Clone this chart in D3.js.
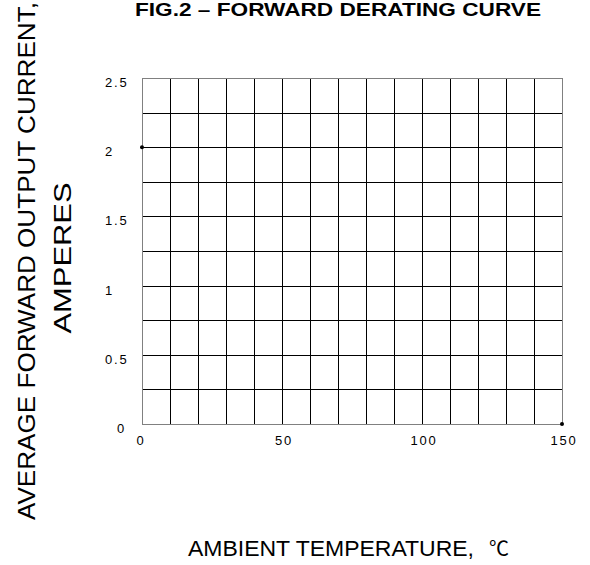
<!DOCTYPE html>
<html lang="en">
<head>
    <meta charset="UTF-8"/>
    <title>Forward Derating Curve</title>
    <script src="https://d3js.org/d3.v7.min.js" charset="utf-8"></script>
    <style type="text/css">
        body { margin: 0; background: #fff; }
        text { font-family: "Liberation Sans", Arial, sans-serif; fill: #000; }
        .grid line { stroke: #000; stroke-width: 1px; shape-rendering: crispEdges; }
        .frame { fill: none; stroke: #808080; stroke-width: 1.2px; shape-rendering: crispEdges; }
        .tick-label { font-size: 13px; letter-spacing: 1.8px; }
    </style>
</head>
<body>
<div id="main"></div>
<script type="text/javascript">
    // chart data
    var temps = [0, 150];          // ambient temperature, C
    var currents = [2, 0];         // average forward output current, A
    var xTicks = [0, 50, 100, 150];
    var yTicks = [0, 0.5, 1, 1.5, 2, 2.5];
    var xGrid = d3.range(0, 151, 10);
    var yGrid = d3.range(0, 2.51, 0.25);

    var width = 590, height = 565;
    var svg = d3.select("#main").append("svg")
        .attr("width", width)
        .attr("height", height);

    // plot box
    var x = d3.scaleLinear().domain([0, 150]).range([142, 562]);
    var y = d3.scaleLinear().domain([0, 2.5]).range([424, 78]);

    var grid = svg.append("g").attr("class", "grid");
    grid.selectAll("line.v")
        .data(xGrid)
        .enter().append("line")
        .attr("class", "v")
        .attr("x1", function (d) { return Math.round(x(d)) + 0.5; })
        .attr("x2", function (d) { return Math.round(x(d)) + 0.5; })
        .attr("y1", y(0))
        .attr("y2", y(2.5));
    grid.selectAll("line.h")
        .data(yGrid)
        .enter().append("line")
        .attr("class", "h")
        .attr("x1", x(0))
        .attr("x2", x(150))
        .attr("y1", function (d) { return Math.round(y(d)) + 0.5; })
        .attr("y2", function (d) { return Math.round(y(d)) + 0.5; });

    svg.append("rect")
        .attr("class", "frame")
        .attr("x", x(0) + 0.5)
        .attr("y", y(2.5) + 0.5)
        .attr("width", x(150) - x(0))
        .attr("height", y(0) - y(2.5));

    // y tick labels (left aligned like the original)
    svg.append("g").selectAll("text")
        .data(yTicks)
        .enter().append("text")
        .attr("class", "tick-label")
        .attr("x", function (d) { return d === 0 ? 117 : 105; })
        .attr("y", function (d) { return y(d) + 9; })
        .text(function (d) { return d; });

    // x tick labels
    svg.append("g").selectAll("text")
        .data(xTicks)
        .enter().append("text")
        .attr("class", "tick-label")
        .attr("text-anchor", "middle")
        .attr("x", function (d) { return x(d) + (d === 0 ? -1 : 2); })
        .attr("y", 445)
        .text(function (d) { return d; });

    // data points
    svg.append("g").selectAll("circle")
        .data(temps)
        .enter().append("circle")
        .attr("cx", function (d) { return x(d); })
        .attr("cy", function (d, i) { return y(currents[i]); })
        .attr("r", 2)
        .style("fill", "#000");

    // title
    svg.append("text")
        .attr("x", 338)
        .attr("y", 16)
        .attr("text-anchor", "middle")
        .attr("font-weight", "bold")
        .attr("font-size", "19px")
        .attr("textLength", 406)
        .attr("lengthAdjust", "spacingAndGlyphs")
        .text("FIG.2 – FORWARD DERATING CURVE");

    // y axis title
    var yTitle = svg.append("g").attr("transform", "translate(0,261) rotate(-90)");
    yTitle.append("text")
        .attr("x", 0)
        .attr("y", 35)
        .attr("text-anchor", "middle")
        .attr("font-size", "24px")
        .attr("textLength", 518)
        .attr("lengthAdjust", "spacingAndGlyphs")
        .text("AVERAGE FORWARD OUTPUT CURRENT,");
    yTitle.append("text")
        .attr("x", 3)
        .attr("y", 71)
        .attr("text-anchor", "middle")
        .attr("font-size", "24px")
        .attr("textLength", 151)
        .attr("lengthAdjust", "spacingAndGlyphs")
        .text("AMPERES");

    // x axis title
    svg.append("text")
        .attr("x", 188)
        .attr("y", 556)
        .attr("font-size", "22px")
        .attr("textLength", 286)
        .attr("lengthAdjust", "spacingAndGlyphs")
        .text("AMBIENT  TEMPERATURE,");
    svg.append("text")
        .attr("x", 489)
        .attr("y", 556)
        .attr("font-size", "20px")
        .style("font-family", "'Noto Sans CJK SC', sans-serif")
        .text("℃");
</script>
</body>
</html>
